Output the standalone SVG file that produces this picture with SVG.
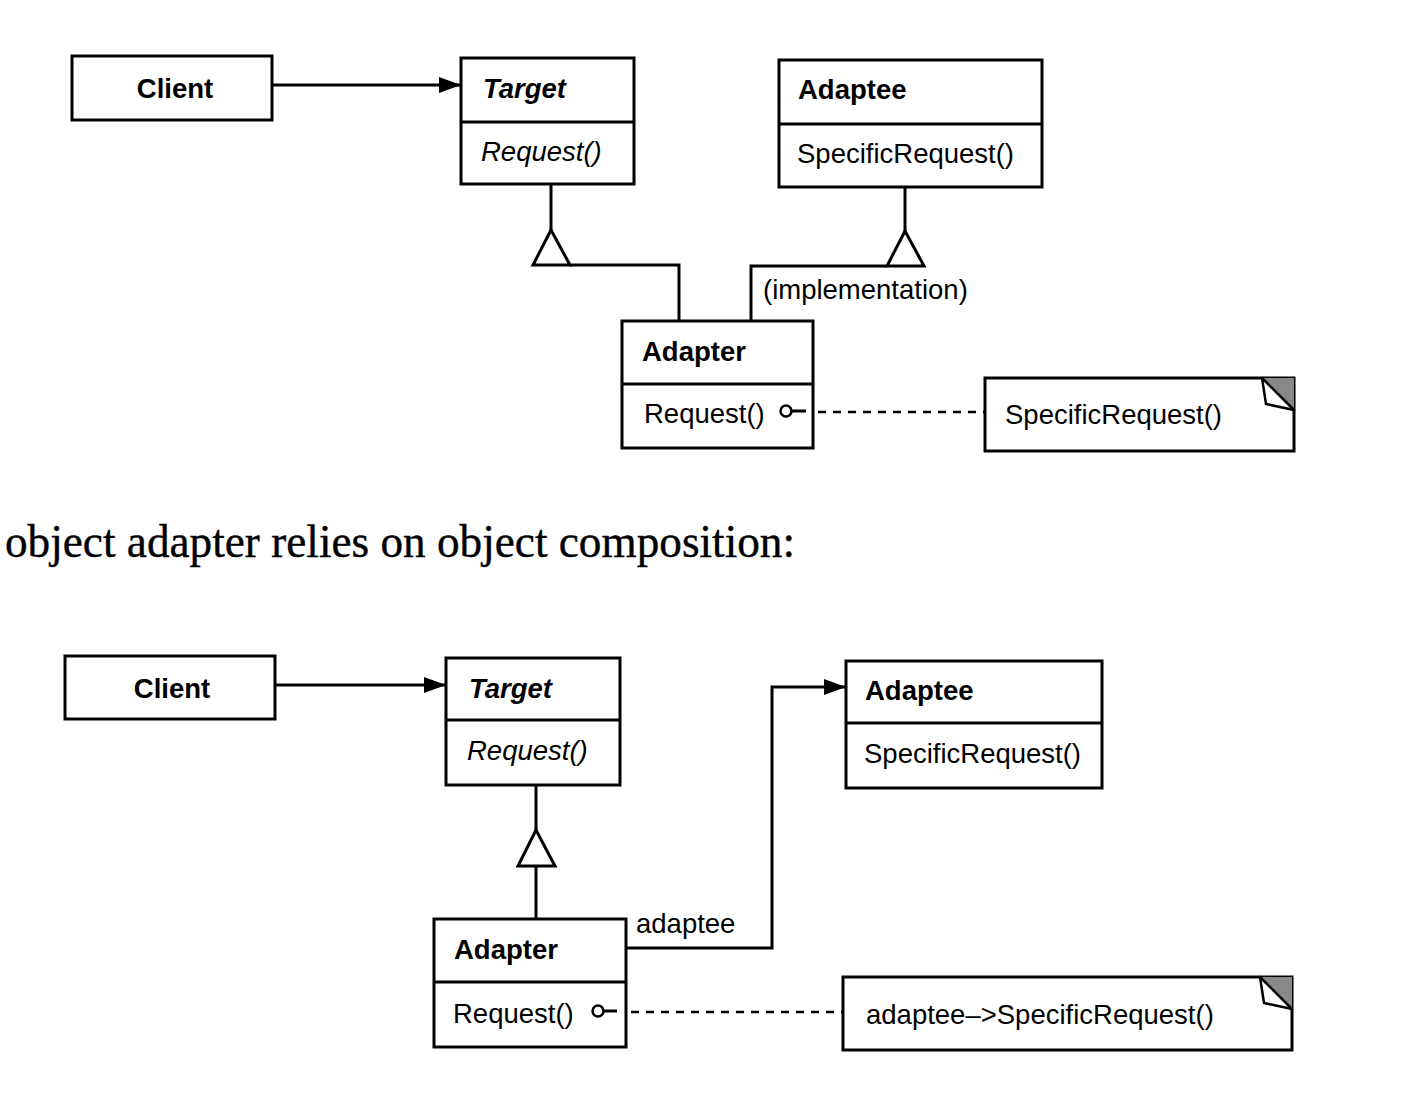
<svg xmlns="http://www.w3.org/2000/svg" width="1424" height="1108" viewBox="0 0 1424 1108">
<style>
.box{fill:#fff;stroke:#000;stroke-width:3}
.ln{fill:none;stroke:#000;stroke-width:3}
.dash{fill:none;stroke:#000;stroke-width:2.5;stroke-dasharray:8 7}
.t{font-family:"Liberation Sans",Arial,sans-serif;font-size:27.5px;fill:#000}
.b{font-weight:bold}
.i{font-style:italic}
.serif{font-family:"Liberation Serif","Times New Roman",serif;font-size:47px;fill:#000;stroke:#000;stroke-width:0.4}
</style>
<defs>
<marker id="arr" markerWidth="22" markerHeight="16" refX="21" refY="8" orient="auto" markerUnits="userSpaceOnUse">
<path d="M0,0 L22,8 L0,16 Z" fill="#000"/>
</marker>
</defs>
<g id="client1">
<rect class="box" x="72" y="56" width="200" height="64"/>
<text class="t b" x="175" y="98" text-anchor="middle">Client</text>
</g>
<g id="target1">
<rect class="box" x="461" y="58" width="173" height="126"/>
<line class="ln" x1="461" y1="122" x2="634" y2="122"/>
<text class="t b i" x="483" y="98">Target</text>
<text class="t i" x="481" y="161">Request()</text>
</g>
<g id="adaptee1">
<rect class="box" x="779" y="60" width="263" height="127"/>
<line class="ln" x1="779" y1="124" x2="1042" y2="124"/>
<text class="t b" x="798" y="99">Adaptee</text>
<text class="t" x="797" y="163">SpecificRequest()</text>
</g>
<text class="t" x="763" y="299">(implementation)</text>
<g id="adapter1">
<rect class="box" x="622" y="321" width="191" height="127"/>
<line class="ln" x1="622" y1="384" x2="813" y2="384"/>
<text class="t b" x="642" y="361">Adapter</text>
<text class="t" x="644" y="423">Request()</text>
</g>
<g id="note1">
<path class="ln" d="M985,378 H1294 V451 H985 Z" fill="#fff"/>
<path d="M1262,378 H1294 V410 Z" fill="#888"/>
<path d="M1262,378 L1294,410 L1266,404 Z" fill="#fff" stroke="#000" stroke-width="2.5" stroke-linejoin="round"/>
<text class="t" x="1005" y="424">SpecificRequest()</text>
</g>
<text class="serif" x="5" y="557" textLength="790" lengthAdjust="spacingAndGlyphs">object adapter relies on object composition:</text>
<g id="client2">
<rect class="box" x="65" y="656" width="210" height="63"/>
<text class="t b" x="172" y="698" text-anchor="middle">Client</text>
</g>
<g id="target2">
<rect class="box" x="446" y="658" width="174" height="127"/>
<line class="ln" x1="446" y1="720" x2="620" y2="720"/>
<text class="t b i" x="469" y="698">Target</text>
<text class="t i" x="467" y="760">Request()</text>
</g>
<g id="adaptee2">
<rect class="box" x="846" y="661" width="256" height="127"/>
<line class="ln" x1="846" y1="723" x2="1102" y2="723"/>
<text class="t b" x="865" y="700">Adaptee</text>
<text class="t" x="864" y="763">SpecificRequest()</text>
</g>
<text class="t" x="636" y="933">adaptee</text>
<g id="adapter2">
<rect class="box" x="434" y="919" width="192" height="128"/>
<line class="ln" x1="434" y1="982" x2="626" y2="982"/>
<text class="t b" x="454" y="959">Adapter</text>
<text class="t" x="453" y="1023">Request()</text>
</g>
<g id="note2">
<path class="ln" d="M843,977 H1292 V1050 H843 Z" fill="#fff"/>
<path d="M1260,977 H1292 V1009 Z" fill="#888"/>
<path d="M1260,977 L1292,1009 L1264,1003 Z" fill="#fff" stroke="#000" stroke-width="2.5" stroke-linejoin="round"/>
<text class="t" x="866" y="1024">adaptee–&gt;SpecificRequest()</text>
</g>
<g id="connectors">
<line class="ln" x1="272" y1="85" x2="460" y2="85" marker-end="url(#arr)"/>
<path class="ln" d="M551,185 V230"/>
<path class="ln" d="M551,230 L533,265 L570,265 Z" fill="#fff"/>
<path class="ln" d="M570,265 H679 V320"/>
<path class="ln" d="M905,188 V231"/>
<path class="ln" d="M905,231 L887,266 L924,266 Z" fill="#fff"/>
<path class="ln" d="M887,266 H751 V320"/>
<circle cx="786" cy="411" r="5.5" fill="#fff" stroke="#000" stroke-width="2.5"/>
<line class="ln" x1="791.5" y1="411" x2="806" y2="411" stroke-width="2.5"/>
<line class="dash" x1="818" y1="412" x2="985" y2="412"/>
<line class="ln" x1="275" y1="685" x2="445" y2="685" marker-end="url(#arr)"/>
<path class="ln" d="M536,786 V830"/>
<path class="ln" d="M536,830 L518,866 L555,866 Z" fill="#fff"/>
<path class="ln" d="M536,866 V918"/>
<path class="ln" d="M627,948 H772 V687 H845" marker-end="url(#arr)"/>
<circle cx="598" cy="1011" r="5.5" fill="#fff" stroke="#000" stroke-width="2.5"/>
<line class="ln" x1="603.5" y1="1011" x2="617" y2="1011" stroke-width="2.5"/>
<line class="dash" x1="631" y1="1012" x2="843" y2="1012"/>
</g>
</svg>
